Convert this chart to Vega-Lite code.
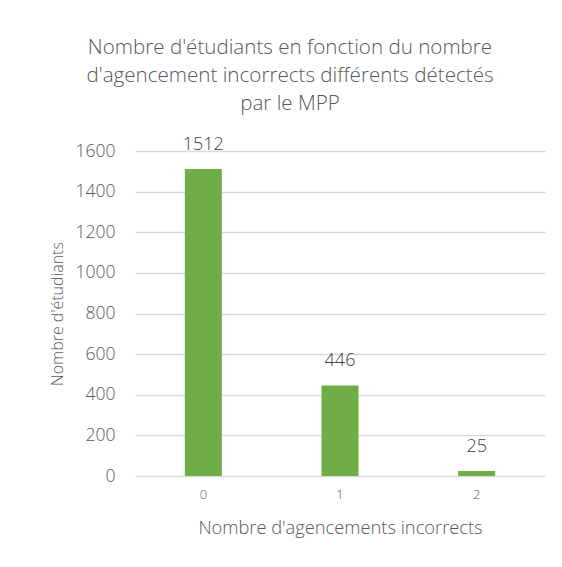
{
  "$schema": "https://vega.github.io/schema/vega-lite/v6.json",
  "autosize": "none",
  "width": 410,
  "height": 325,
  "padding": {"left": 135, "top": 151, "right": 17, "bottom": 91},
  "background": "white",
  "config": {"view": {"stroke": null}, "font": "Open Sans"},
  "title": {
    "text": ["Nombre d'étudiants en fonction du nombre", "d'agencement incorrects différents détectés", "par le MPP"],
    "fontSize": 20.6,
    "fontWeight": 300,
    "color": "#595959",
    "lineHeight": 28,
    "anchor": "middle",
    "frame": "group",
    "dx": -50,
    "offset": 21
  },
  "data": {"values": [
    {"n": "0", "count": 1512},
    {"n": "1", "count": 446},
    {"n": "2", "count": 25}
  ]},
  "encoding": {
    "x": {
      "field": "n", "type": "ordinal",
      "scale": {"paddingInner": 0, "paddingOuter": 0},
      "axis": {
        "title": "Nombre d'agencements incorrects",
        "labelAngle": 0, "labelFontSize": 13, "labelFontWeight": 300, "labelColor": "#595959",
        "labelPadding": 12, "ticks": false, "domain": false,
        "titleFontSize": 18.3, "titleFontWeight": 300, "titleColor": "#595959",
        "titlePadding": 18
      }
    },
    "y": {
      "field": "count", "type": "quantitative",
      "scale": {"domain": [0, 1600], "nice": false},
      "axis": {
        "title": "Nombre d'étudiants",
        "format": "d",
        "values": [0, 200, 400, 600, 800, 1000, 1200, 1400, 1600],
        "labelFontSize": 17.5, "labelFontWeight": 300, "labelColor": "#595959", "labelPadding": 20,
        "ticks": false, "domain": false,
        "gridColor": "#d9d9d9", "gridWidth": 1.3,
        "titleFontSize": 16, "titleFontWeight": 300, "titleColor": "#595959",
        "titlePadding": 10
      }
    }
  },
  "layer": [
    {"mark": {"type": "bar", "color": "#70ad47", "size": 37}},
    {
      "mark": {"type": "text", "dy": -24, "fontSize": 18, "fontWeight": 300, "color": "#404040"},
      "encoding": {"text": {"field": "count", "type": "quantitative"}}
    }
  ]
}
